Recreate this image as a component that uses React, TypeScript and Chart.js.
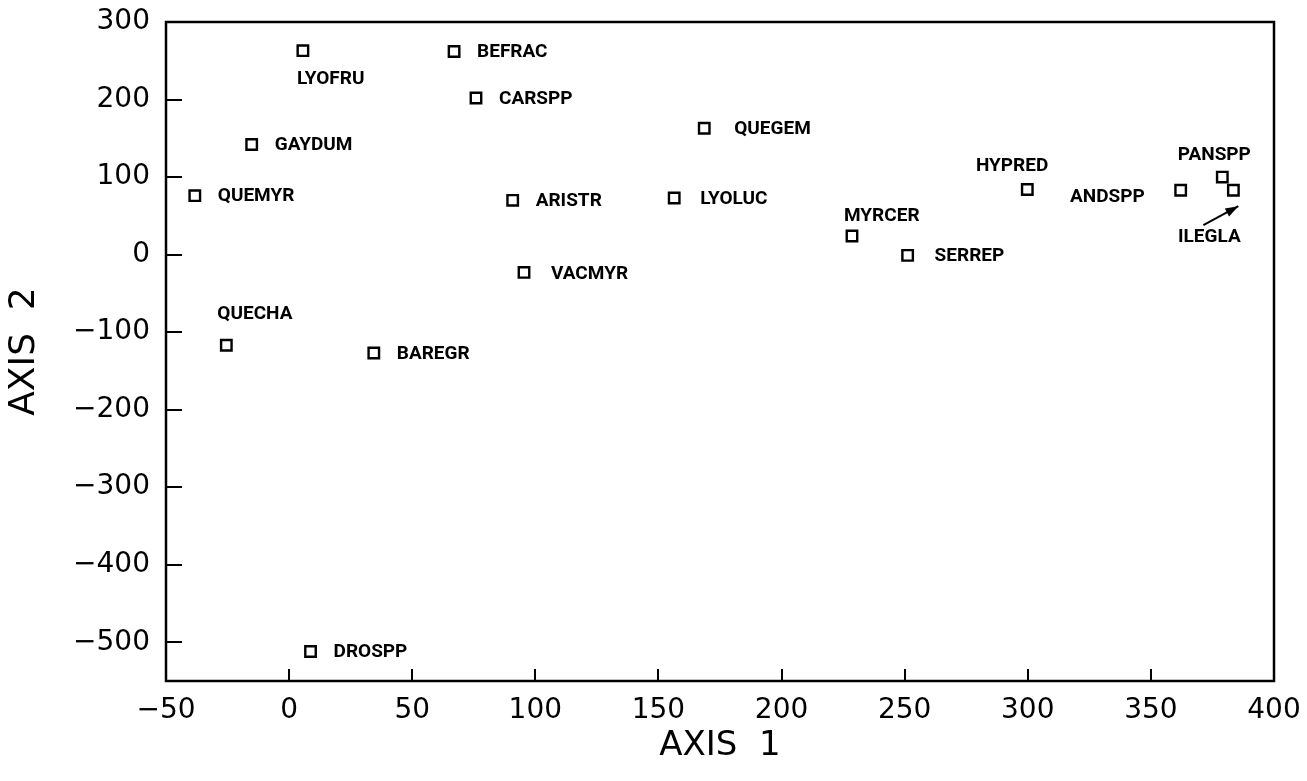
import React, { useEffect, useRef } from "react";
import { Chart, registerables } from "chart.js";

Chart.register(...registerables);

// Species ordination scores (axis 1, axis 2)
const speciesCodes = [
  "QUEMYR", "GAYDUM", "LYOFRU", "BEFRAC", "CARSPP", "QUEGEM",
  "ARISTR", "LYOLUC", "VACMYR", "MYRCER", "SERREP", "HYPRED",
  "ANDSPP", "PANSPP", "ILEGLA", "QUECHA", "BAREGR", "DROSPP",
];
const axis1Scores = [
  -38.3, -15.2, 5.6, 67, 75.9, 168.6,
  90.8, 156.4, 95.4, 228.6, 251.2, 299.8,
  362.1, 379.0, 383.5, -25.5, 34.4, 8.7,
];
const axis2Scores = [
  76, 142, 263, 262, 202, 163,
  70, 73, -23, 24, -1, 84,
  83, 100, 83, -117, -127, -512,
];

const xTickValues = [-50, 0, 50, 100, 150, 200, 250, 300, 350, 400];
const yTickValues = [300, 200, 100, 0, -100, -200, -300, -400, -500];

const AXIS_FONT = "'DejaVu Sans', sans-serif";
const LABEL_FONT = "bold 19px Roboto, 'Liberation Sans', sans-serif";

// tick text with a true minus sign
const fmtTick = (v: number | string) => String(v).replace("-", "\u2212");

type Placement = { dx: number; dy: number; align: CanvasTextAlign };

// Where each species code sits relative to its marker (pixels)
const defaultPlacement: Placement = { dx: 23, dy: 1, align: "left" };
const labelPlacement: Record<string, Placement> = {
  LYOFRU: { dx: -6, dy: 29, align: "left" },
  QUEGEM: { dx: 30, dy: 1, align: "left" },
  LYOLUC: { dx: 26, dy: 1, align: "left" },
  VACMYR: { dx: 27, dy: 2, align: "left" },
  SERREP: { dx: 27, dy: 1, align: "left" },
  MYRCER: { dx: -8, dy: -20, align: "left" },
  HYPRED: { dx: 21, dy: -23, align: "right" },
  ANDSPP: { dx: -36, dy: 7, align: "right" },
  PANSPP: { dx: -8, dy: -22, align: "center" },
  ILEGLA: { dx: -24, dy: 47, align: "center" },
  QUECHA: { dx: -9, dy: -31, align: "left" },
};

const frameAndLabels = {
  id: "frameAndLabels",
  afterDatasetsDraw(chart: any) {
    const { ctx, chartArea } = chart;
    ctx.save();
    // plot frame
    ctx.strokeStyle = "#000";
    ctx.lineWidth = 2.5;
    ctx.strokeRect(
      chartArea.left,
      chartArea.top,
      chartArea.right - chartArea.left,
      chartArea.bottom - chartArea.top
    );

    // species labels
    const meta = chart.getDatasetMeta(0);
    ctx.font = LABEL_FONT;
    ctx.fillStyle = "#000";
    ctx.textBaseline = "middle";
    meta.data.forEach((el: any, i: number) => {
      const name = speciesCodes[i];
      const p = labelPlacement[name] ?? defaultPlacement;
      ctx.textAlign = p.align;
      ctx.fillText(name, el.x + p.dx, el.y + p.dy);
      if (name === "ILEGLA") {
        // pointer from the label up to the crowded marker
        const tx = el.x - 30, ty = el.y + 35;
        const hx = el.x + 5, hy = el.y + 16;
        const ang = Math.atan2(hy - ty, hx - tx);
        ctx.lineWidth = 2;
        ctx.beginPath();
        ctx.moveTo(tx, ty);
        ctx.lineTo(hx, hy);
        ctx.stroke();
        const len = 13, half = 4.5;
        ctx.beginPath();
        ctx.moveTo(hx, hy);
        ctx.lineTo(
          hx - len * Math.cos(ang) + half * Math.sin(ang),
          hy - len * Math.sin(ang) - half * Math.cos(ang)
        );
        ctx.lineTo(
          hx - len * Math.cos(ang) - half * Math.sin(ang),
          hy - len * Math.sin(ang) + half * Math.cos(ang)
        );
        ctx.closePath();
        ctx.fill();
      }
    });
    ctx.restore();
  },
};

export default function App() {
  const canvasRef = useRef<HTMLCanvasElement | null>(null);

  useEffect(() => {
    if (!canvasRef.current) return;
    const points = speciesCodes.map((_, i) => ({ x: axis1Scores[i], y: axis2Scores[i] }));
    const chart = new Chart(canvasRef.current, {
      type: "scatter",
      data: {
        datasets: [
          {
            label: "Species",
            data: points,
            pointStyle: "rect",
            pointRadius: 7.4,
            pointBorderWidth: 2.4,
            pointBorderColor: "#000",
            pointBackgroundColor: "rgba(0,0,0,0)",
          },
        ],
      },
      options: {
        animation: false,
        responsive: true,
        maintainAspectRatio: false,
        events: [],
        layout: { padding: { left: 0, top: 22, right: 33, bottom: 0 } },
        plugins: {
          legend: { display: false },
          tooltip: { enabled: false },
        },
        scales: {
          x: {
            type: "linear",
            min: -50,
            max: 400,
            afterBuildTicks: (scale: any) => {
              scale.ticks = xTickValues.map((v) => ({ value: v }));
            },
            afterFit: (scale: any) => {
              scale.height = 100;
              scale.paddingLeft = 0;
              scale.paddingRight = 0;
            },
            border: { display: false },
            grid: {
              drawOnChartArea: false,
              drawTicks: true,
              tickLength: -12,
              color: "#000",
              lineWidth: 2,
            },
            ticks: {
              color: "#000",
              padding: 28,
              maxRotation: 0,
              autoSkip: false,
              callback: (v: any) => fmtTick(v),
              font: { family: AXIS_FONT, size: 28, lineHeight: 1 },
            },
            title: {
              display: true,
              text: "AXIS  1",
              color: "#000",
              font: { family: AXIS_FONT, size: 34, lineHeight: 1 },
              padding: { top: 0, bottom: 18 },
            },
          },
          y: {
            type: "linear",
            min: -550,
            max: 300,
            afterBuildTicks: (scale: any) => {
              scale.ticks = yTickValues.map((v) => ({ value: v }));
            },
            afterFit: (scale: any) => {
              scale.width = 166;
              scale.paddingTop = 0;
              scale.paddingBottom = 0;
            },
            border: { display: false },
            grid: {
              drawOnChartArea: false,
              drawTicks: true,
              tickLength: -16,
              color: "#000",
              lineWidth: 2,
            },
            ticks: {
              color: "#000",
              padding: 32,
              autoSkip: false,
              callback: (v: any) => fmtTick(v),
              font: { family: AXIS_FONT, size: 28, lineHeight: 1 },
            },
            title: {
              display: true,
              text: "AXIS  2",
              color: "#000",
              font: { family: AXIS_FONT, size: 36, lineHeight: 1 },
              padding: { top: 7, bottom: 0 },
            },
          },
        },
      },
      plugins: [frameAndLabels],
    });
    return () => chart.destroy();
  }, []);

  return (
    <div
      style={{
        position: "fixed",
        left: 0,
        top: 0,
        width: 1307,
        height: 781,
        background: "#fff",
      }}
    >
      <canvas ref={canvasRef} />
    </div>
  );
}
